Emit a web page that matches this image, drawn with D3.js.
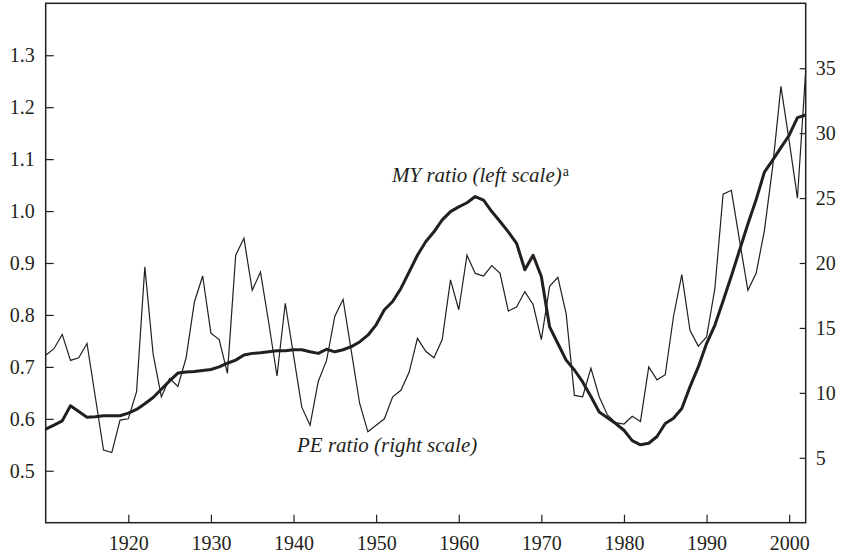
<!DOCTYPE html>
<html>
<head>
<meta charset="utf-8">
<script src="https://cdn.jsdelivr.net/npm/d3@7"></script>
<style>
  body { margin: 0; background: #fff; }
  svg { display: block; }
  .tick text { font-family: 'Liberation Serif', 'Times New Roman', serif; font-size: 20px; fill: #231f20; }
  .tick line { stroke: #231f20; stroke-width: 1.2; }
  .note { font-family: 'Liberation Serif', 'Times New Roman', serif; font-size: 21px; font-style: italic; fill: #231f20; }
</style>
</head>
<body>
<div id="container"></div>
<script>
const w = 842,
  h = 555;
const plotLeft = 45.7,
  plotRight = 805.7,
  plotTop = 3.3,
  plotBottom = 522.7;
const serif = "'Liberation Serif', 'Times New Roman', serif";

// yearly values, 1910-2002
const years = d3.range(1910, 2003);
const myRatio = [
  0.580, 0.588, 0.596, 0.625, 0.614, 0.603, 0.604, 0.606, 0.606, 0.606,
  0.611, 0.618, 0.629, 0.641, 0.657, 0.673, 0.688, 0.690, 0.691, 0.693,
  0.695, 0.700, 0.707, 0.713, 0.723, 0.726, 0.727, 0.729, 0.731, 0.731,
  0.733, 0.733, 0.729, 0.726, 0.734, 0.729, 0.733, 0.739, 0.748, 0.761,
  0.781, 0.810, 0.826, 0.851, 0.883, 0.915, 0.941, 0.960, 0.983, 0.999,
  1.008, 1.016, 1.028, 1.021, 0.999, 0.980, 0.960, 0.938, 0.887, 0.915,
  0.874, 0.777, 0.745, 0.713, 0.694, 0.671, 0.643, 0.613, 0.602, 0.591,
  0.578, 0.558, 0.550, 0.553, 0.566, 0.591, 0.601, 0.620, 0.662, 0.700,
  0.745, 0.780, 0.827, 0.875, 0.925, 0.975, 1.022, 1.075, 1.098, 1.122,
  1.146, 1.180, 1.185
];
const peRatio = [
  12.9, 13.4, 14.5, 12.5, 12.7, 13.8, 9.7, 5.6, 5.4, 7.9,
  8.0, 10.1, 19.7, 13.0, 9.7, 11.1, 10.5, 12.7, 17.0, 19.0,
  14.6, 14.1, 11.5, 20.6, 21.9, 17.9, 19.3, 15.4, 11.3, 16.9,
  12.9, 8.9, 7.5, 10.9, 12.5, 15.9, 17.2, 13.2, 9.2, 7.0,
  7.5, 8.0, 9.7, 10.2, 11.6, 14.2, 13.2, 12.7, 14.1, 18.7,
  16.4, 20.6, 19.2, 19.0, 19.8, 19.2, 16.3, 16.6, 17.8, 16.8,
  14.1, 18.2, 18.9, 16.1, 9.8, 9.7, 11.9, 9.7, 8.3, 7.7,
  7.6, 8.2, 7.8, 12.0, 11.0, 11.4, 15.9, 19.1, 14.8, 13.6,
  14.3, 18.0, 25.3, 25.6, 21.7, 17.9, 19.2, 22.5, 27.4, 33.6,
  29.4, 25.0, 34.8
];
const xTicks = d3.range(1920, 2001, 10);
const leftTicks = [0.5, 0.6, 0.7, 0.8, 0.9, 1.0, 1.1, 1.2, 1.3];
const rightTicks = [5, 10, 15, 20, 25, 30, 35];

const svg = d3.select('#container').append('svg').attr('width', w).attr('height', h);

const xScale = d3.scaleLinear().domain([1910, 2002]).range([plotLeft, plotRight]);
const yLeft = d3.scaleLinear().domain([0.4, 1.4]).range([plotBottom, plotTop]);
const yRight = d3.scaleLinear().domain([0, 40]).range([plotBottom, plotTop]);

svg
  .append('g')
  .attr('transform', 'translate(0, ' + plotBottom + ')')
  .call(d3.axisBottom(xScale).tickValues(xTicks).tickFormat(d3.format('d')).tickSize(-8).tickSizeOuter(0).tickPadding(13))
  .attr('font-family', serif)
  .attr('font-size', 20)
  .call((g) => g.select('.domain').remove());

svg
  .append('g')
  .attr('transform', 'translate(' + plotLeft + ', 0)')
  .call(d3.axisLeft(yLeft).tickValues(leftTicks).tickFormat(d3.format('.1f')).tickSize(-8).tickSizeOuter(0).tickPadding(11))
  .attr('font-family', serif)
  .attr('font-size', 20)
  .call((g) => g.select('.domain').remove());

svg
  .append('g')
  .attr('transform', 'translate(' + plotRight + ', 0)')
  .call(d3.axisRight(yRight).tickValues(rightTicks).tickSize(-6).tickSizeOuter(0).tickPadding(10))
  .attr('font-family', serif)
  .attr('font-size', 20)
  .call((g) => g.select('.domain').remove());

// frame
svg
  .append('rect')
  .attr('x', plotLeft)
  .attr('y', plotTop)
  .attr('width', plotRight - plotLeft)
  .attr('height', plotBottom - plotTop)
  .attr('fill', 'none')
  .attr('stroke', '#231f20')
  .attr('stroke-width', 1.5);

const peLine = d3
  .line()
  .x((d, i) => xScale(years[i]))
  .y((d) => yRight(d));
const myLine = d3
  .line()
  .x((d, i) => xScale(years[i]))
  .y((d) => yLeft(d));

svg
  .append('path')
  .datum(peRatio)
  .attr('d', peLine)
  .attr('fill', 'none')
  .attr('stroke', '#231f20')
  .attr('stroke-width', 1.2)
  .attr('stroke-linejoin', 'miter');

svg
  .append('path')
  .datum(myRatio)
  .attr('d', myLine)
  .attr('fill', 'none')
  .attr('stroke', '#231f20')
  .attr('stroke-width', 3)
  .attr('stroke-linejoin', 'round');

const myNote = svg.append('text').attr('class', 'note').attr('x', 392).attr('y', 182);
myNote.append('tspan').text('MY ratio (left scale)');
myNote
  .append('tspan')
  .text('a')
  .attr('dy', -6)
  .attr('dx', 1)
  .style('font-style', 'normal')
  .style('font-size', '14px');

svg
  .append('text')
  .attr('class', 'note')
  .attr('x', 297)
  .attr('y', 452)
  .text('PE ratio (right scale)');
</script>
</body>
</html>
